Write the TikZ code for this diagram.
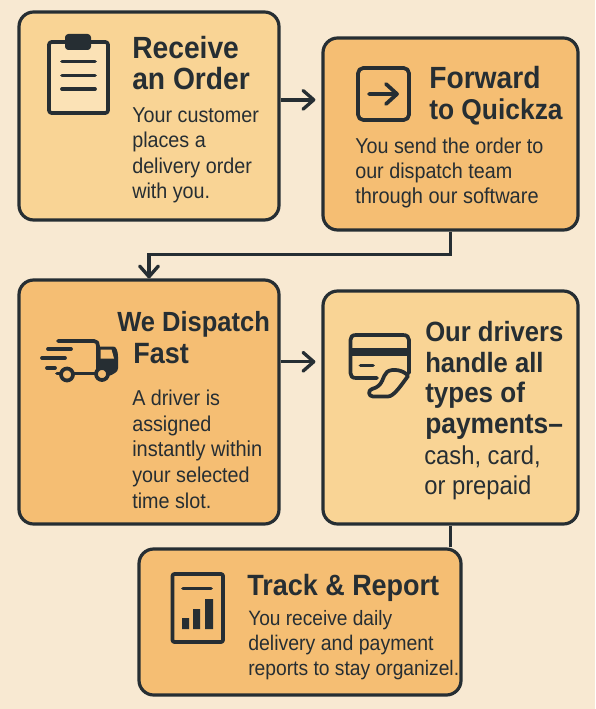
\documentclass[tikz,border=0pt]{standalone}
\usepackage{fontspec}
\setmainfont{Liberation Sans}[FakeStretch=0.92]
\usetikzlibrary{arrows.meta}
\definecolor{bg}{HTML}{F8E9D2}
\definecolor{ink}{HTML}{262E33}
\definecolor{lite}{HTML}{F9D495}
\definecolor{deep}{HTML}{F5BE73}
\definecolor{paper}{HTML}{FBE2B6}
\tikzset{
 x=0.75pt,y=-0.75pt,
 box/.style={draw=ink,line width=2.4pt,rounded corners=11pt,inner sep=0pt},
 conn/.style={draw=ink,line width=2.5pt},
 tip/.style={-{Straight Barb[length=8pt,width=14pt,line width=2.5pt,round]}},
 icon/.style={draw=ink,line width=2.8pt,line cap=round,line join=round},
 title/.style={anchor=base west,inner sep=0pt,text=ink,font=\fontsize{#1}{23}\selectfont\bfseries},
 title/.default=22,
 body/.style={anchor=base west,inner sep=0pt,text=ink,font=\fontsize{#1}{19}\selectfont},
 body/.default=16.1,
}
\begin{document}
\begin{tikzpicture}
\useasboundingbox (0,0) rectangle (595,709);
\fill[bg] (0,0) rectangle (595,709);
% boxes
\node[box,fill=lite,minimum width=195pt,minimum height=156pt] (A) at (149,116) {};
\node[box,fill=deep,minimum width=191.25pt,minimum height=144pt] (B) at (450.5,134) {};
\node[box,fill=deep,minimum width=195pt,minimum height=183pt] (C) at (149,402) {};
\node[box,fill=lite,minimum width=191.25pt,minimum height=174.75pt] (D) at (450.5,407.5) {};
\node[box,fill=deep,minimum width=241.5pt,minimum height=109.5pt] (E) at (300,622) {};
% connectors
\draw[conn,tip,shorten >=4.5pt] (A.7) -- (A.7 -| B.west);
\draw[conn,tip] (B.south) -- ++(0,23) -| (C.north);
\draw[conn,tip,shorten >=4.5pt] (C.17) -- (C.17 -| D.west);
\draw[conn] (D.south) -- (D.south |- E.north);
% texts
\node[title=23] (t1a) at (132,59) {Receive};
\node[title=23] (t1b) at (132,90) {an Order};
\node[body] (b1a) at (132,123) {Your customer};
\node[body] (b1b) at (132,148) {places a};
\node[body] (b1c) at (132,174) {delivery order};
\node[body] (b1d) at (132,199) {with you.};
\node[title=23] (t2a) at (429,89) {Forward};
\node[title=21.5] (t2b) at (429,120) {to Quickza};
\node[body] (b2a) at (355,154) {You send the order to};
\node[body] (b2b) at (355,179) {our dispatch team};
\node[body=16.3] (b2c) at (355,204) {through our software};
\node[title=20.8] (t3a) at (117,331) {We Dispatch};
\node[title=22] (t3b) at (133,363) {Fast};
\node[body] (b3a) at (132,405) {A driver is};
\node[body] (b3b) at (132,431) {assigned};
\node[body=16.3] (b3c) at (132,456) {instantly within};
\node[body] (b3d) at (132,482) {your selected};
\node[body] (b3e) at (132,508) {time slot.};
\node[title=20.9] (t4a) at (425,341) {Our drivers};
\node[title=20.9] (t4b) at (425,372) {handle all};
\node[title=21.2] (t4c) at (425,402) {types of};
\node[title=21.5] (t4d) at (425,433) {payments–};
\node[body=19.4] (b4a) at (424,464) {cash, card,};
\node[body=19.4] (b4b) at (424,494) {or prepaid};
\node[title=22] (t5a) at (247,595) {Track \& Report};
\node[body=15.6] (b5a) at (248,625) {You receive daily};
\node[body=15.9] (b5b) at (248,650) {delivery and payment};
\node[body=15.7] (b5c) at (248,675) {reports to stay organizel.};
% clipboard
\draw[icon,fill=paper,rounded corners=2pt] (49,42) rectangle (108,113);
\fill[ink,rounded corners=2.5pt] (65,34) rectangle (91,50);
\draw[icon] (62,61.5) -- (95,61.5) (62,75.5) -- (95,75.5) (62,89) -- (95,89);
% forward icon
\draw[icon,rounded corners=4pt] (358,68) rectangle (409,120);
\draw[icon] (369,94) -- (397,94) (386,84) -- (397,94) -- (386,104);
% truck
\draw[icon] (58,341) -- (94,341) .. controls (97,341) and (98,343) .. (98,346) -- (98,372);
\fill[ink,rounded corners=2pt] (97,346.5) -- (112,346.5) .. controls (116,347) and (117,350) .. (118,354) -- (118,371) -- (110,376) -- (97,376) -- cycle;
\fill[deep] (100.5,349.5) -- (111.5,349.5) -- (114,358.5) -- (100.5,358.5) -- cycle;
\draw[icon] (48,349) -- (71,349) (42,358) -- (65,358) (47,368) -- (55,368) (57,373.5) -- (97,373.5);
\draw[icon,fill=deep] (67,374.5) circle (6);
\draw[icon,fill=deep] (102,374) circle (6);
% card
\draw[icon] (377,378) -- (356,378) .. controls (352,378) and (350.5,376) .. (350.5,373) -- (350.5,340) .. controls (350.5,337) and (352,335) .. (356,335) -- (403,335) .. controls (407,335) and (409,337) .. (409,340) -- (409,373);
\fill[ink] (350,347.5) rectangle (409,356);
\draw[icon] (360.5,365.5) -- (373,365.5);
\draw[icon,fill=lite] (408,376) .. controls (404,370) and (392,368) .. (387,372) .. controls (382,376) and (384,386) .. (372,389) .. controls (368,390) and (368,396.5) .. (373,396.5) -- (388,396.5) .. controls (394,396.5) and (402,384) .. (408,376) -- cycle;
% report
\draw[icon,rounded corners=1.5pt] (172.5,574) rectangle (223,642);
\draw[icon] (183,588.5) -- (211,588.5);
\fill[ink] (182,618) rectangle (189,629) (193,609) rectangle (200,629) (205,599) rectangle (213,629);
\end{tikzpicture}
\end{document}
